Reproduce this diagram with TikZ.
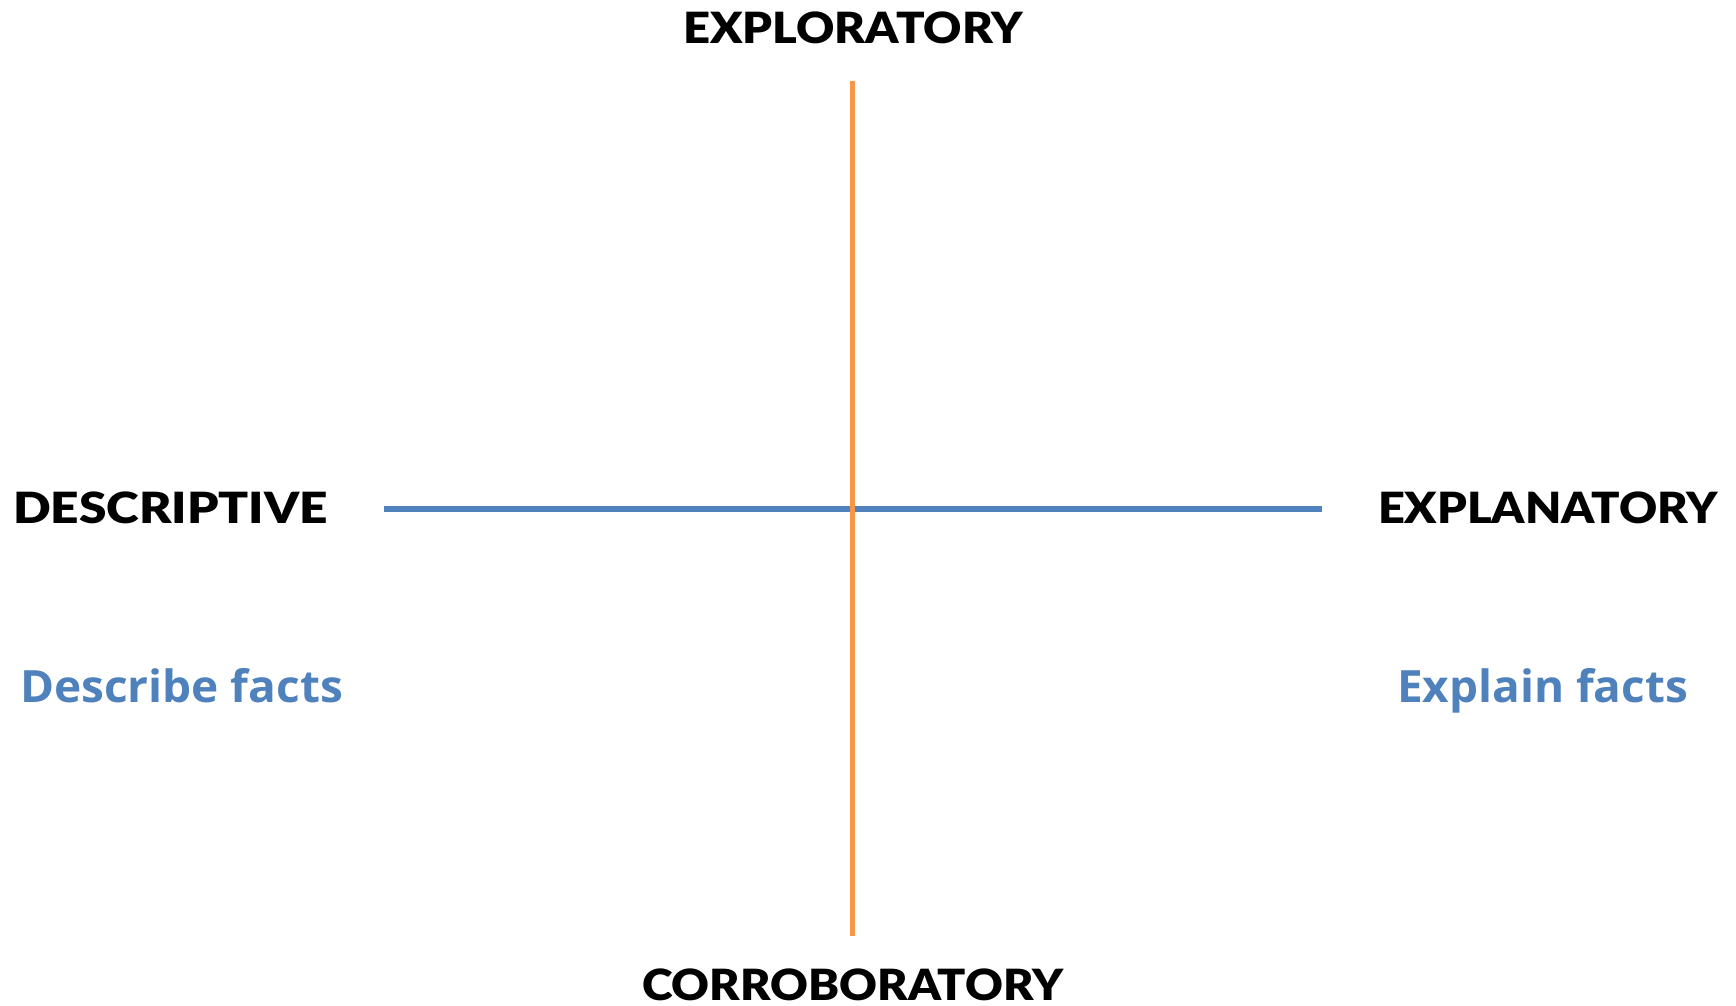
\documentclass[tikz,border=0pt]{standalone}
\usepackage{fontspec}
\setmainfont{Liberation Sans}
\newfontfamily\headfont{Lato}[UprightFont={* Black}]
\newfontfamily\subfont{Open Sans}[UprightFont={* Bold}]
\definecolor{blueaxis}{HTML}{4F81BD}
\definecolor{orangeaxis}{HTML}{F79646}
\newcommand\fitw[2]{\resizebox{#1}{\height}{#2}}
\begin{document}
\begin{tikzpicture}[x=1pt,y=-1pt,
  head/.style={inner sep=0pt, outer sep=0pt, font=\fontsize{43}{44}\headfont},
  sub/.style={inner sep=0pt, outer sep=0pt, text=blueaxis, font=\fontsize{44.5}{46}\subfont},
  axis/.style={line width=5.5pt}]
\useasboundingbox (0,0) rectangle (1736,1005);
\coordinate (hl) at (384,509);
\coordinate (hr) at (1322,509);
\coordinate (vt) at (852.5,81);
\coordinate (vb) at (852.5,936);
\draw[axis, blueaxis] (hl) -- (hr);
\draw[axis, orangeaxis] (vt) -- (vb);
\node[head, anchor=base] (top) at (853,43) {\fitw{340pt}{EXPLORATORY}};
\node[head, anchor=base] (bot) at (852.5,1000) {\fitw{421pt}{CORROBORATORY}};
\node[head, anchor=base west] (left) at (13,523) {\fitw{315pt}{DESCRIPTIVE}};
\node[head, anchor=base west] (right) at (1378,523) {\fitw{340pt}{EXPLANATORY}};
\node[sub, anchor=base west] (lsub) at (20,702) {\fitw{323pt}{Describe facts}};
\node[sub, anchor=base west] (rsub) at (1397,702) {\fitw{291pt}{Explain facts}};
\end{tikzpicture}
\end{document}
